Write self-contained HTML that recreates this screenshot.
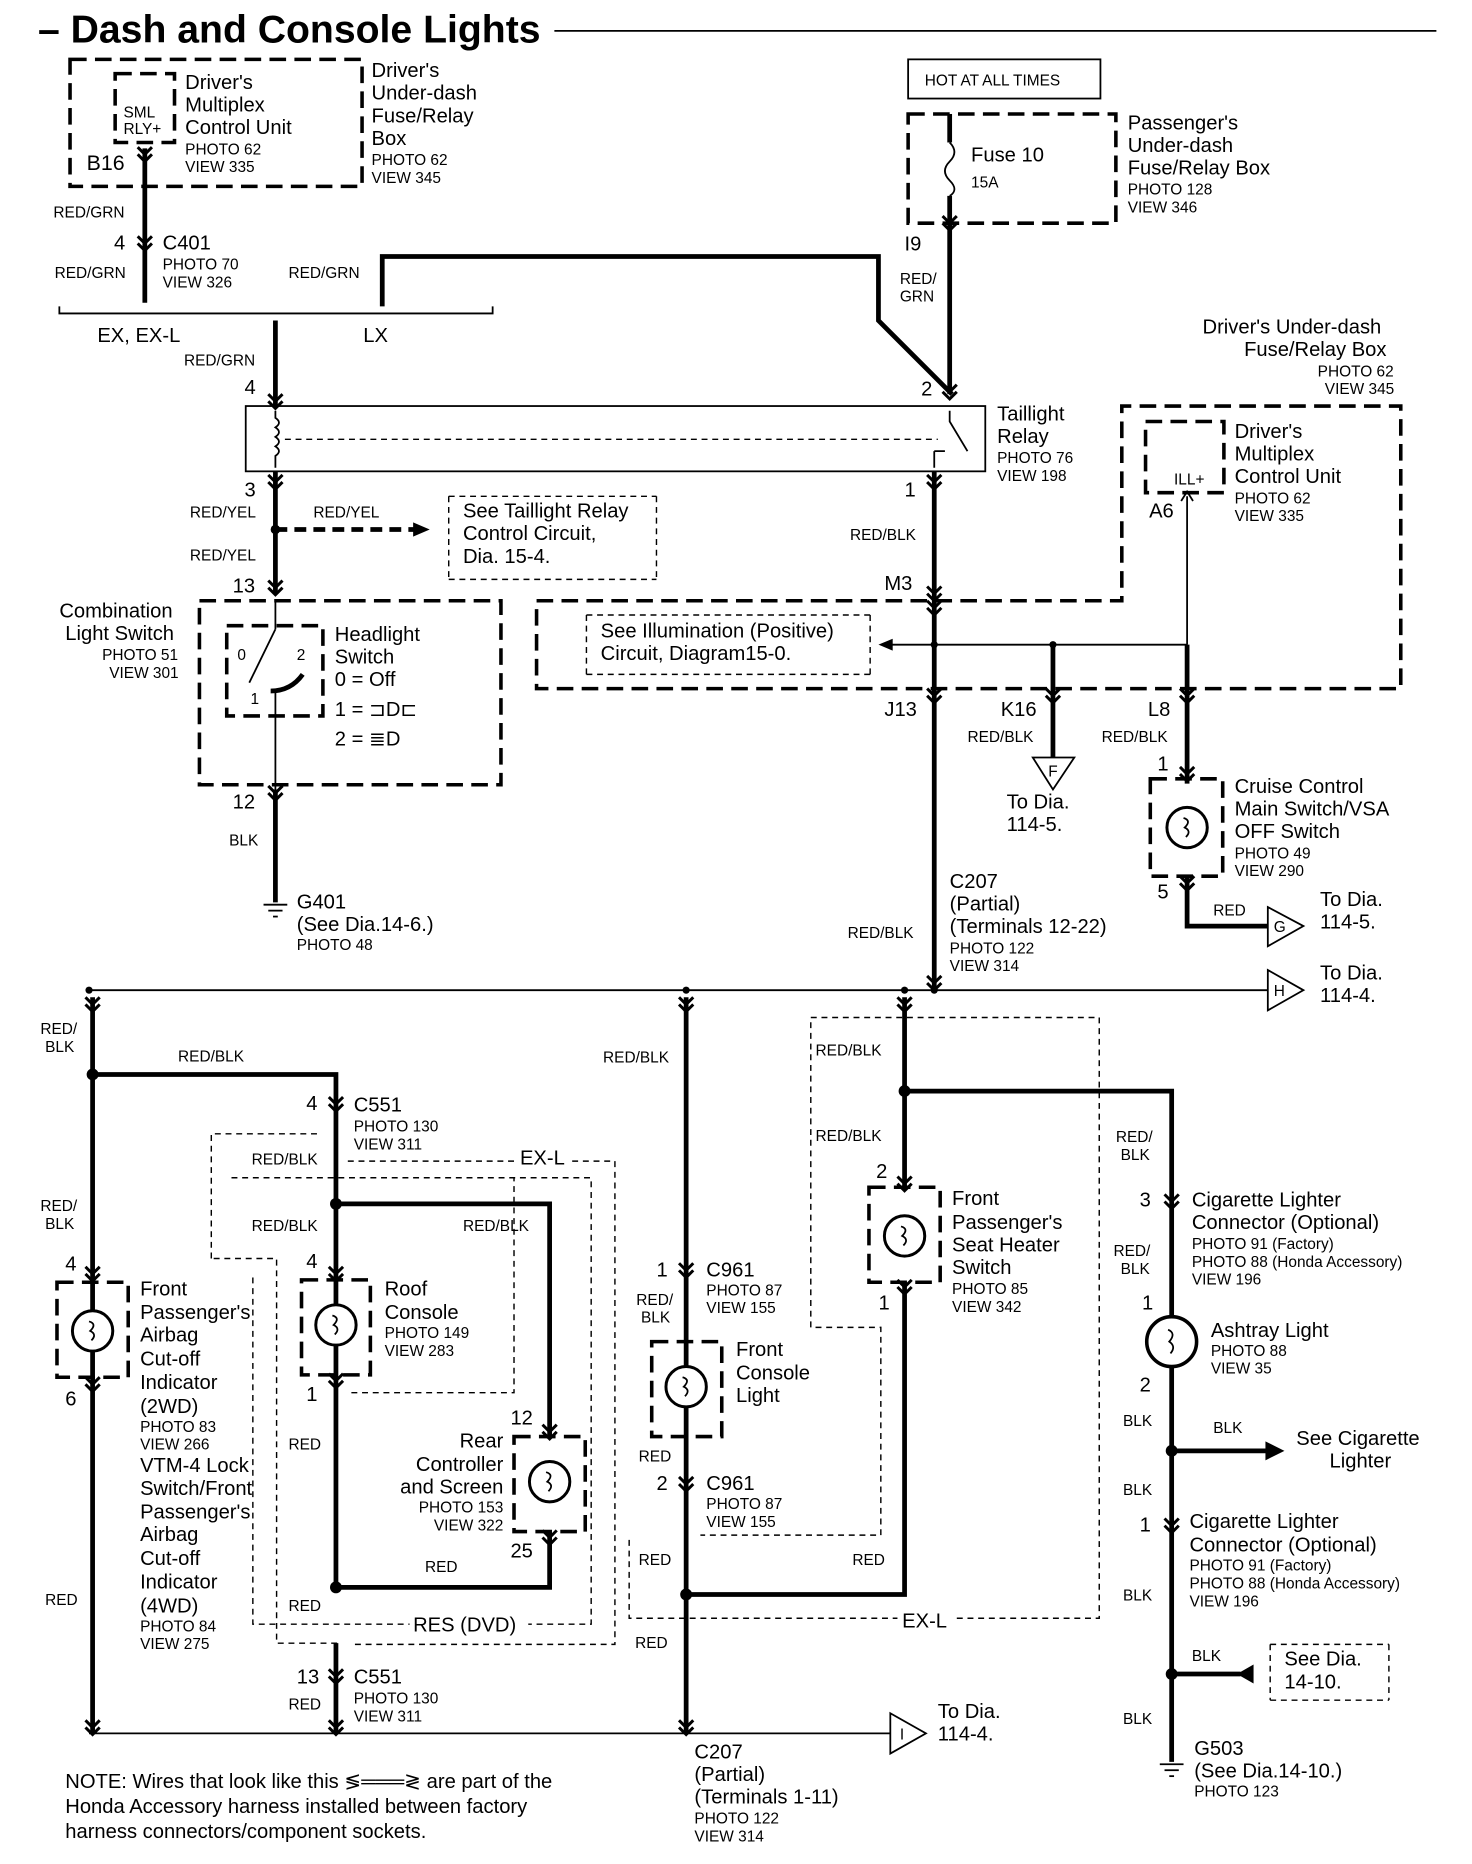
<!DOCTYPE html>
<html><head><meta charset="utf-8"><style>
html,body{margin:0;padding:0;background:#fff}
svg{display:block}
text{font-family:"Liberation Sans",sans-serif;fill:#000}
.s{font-size:13px}.m{font-size:17px}.l{font-size:18px}
.w{stroke:#000;stroke-width:4;fill:none}
.t{stroke:#000;stroke-width:1.5;fill:none}
.d{stroke:#000;stroke-width:3;fill:none;stroke-dasharray:14 7}
.dt{stroke:#000;stroke-width:1.2;fill:none;stroke-dasharray:5 4}
.c{stroke:#000;stroke-width:2.5;fill:none}
</style></head><body>
<svg width="1472" height="1864" viewBox="0 0 1240 1570" preserveAspectRatio="none" xmlns="http://www.w3.org/2000/svg">
<defs>
<g id="ch"><path d="M-6 -6 L0 0 L6 -6 M-6 0 L0 6 L6 0" class="c"/></g>
<g id="lamp"><circle r="17" fill="#fff" stroke="#000" stroke-width="2.5"/><path d="M-3 -8 Q4 -6 -2 0 Q4 3 -1 8" fill="none" stroke="#000" stroke-width="1.5"/></g>
</defs>
<text x="32" y="36" font-size="33" font-weight="bold">– Dash and Console Lights</text>
<line x1="467" y1="26" x2="1210" y2="26" class="t" stroke-width="2"/>

<!-- top left box -->
<rect x="59" y="50" width="246" height="107" class="d"/>
<rect x="97" y="62" width="50" height="58" class="d" stroke-dasharray="10 6"/>
<text x="104" y="99" class="s">SML</text><text x="104" y="113" class="s">RLY+</text>
<text x="73" y="143" class="l">B16</text>
<text x="156" y="75" class="m">Driver's</text><text x="156" y="94" class="m">Multiplex</text><text x="156" y="113" class="m">Control Unit</text>
<text x="156" y="130" class="s">PHOTO 62</text><text x="156" y="145" class="s">VIEW 335</text>
<text x="313" y="65" class="m">Driver's</text><text x="313" y="84" class="m">Under-dash</text><text x="313" y="103" class="m">Fuse/Relay</text><text x="313" y="122" class="m">Box</text>
<text x="313" y="139" class="s">PHOTO 62</text><text x="313" y="154" class="s">VIEW 345</text>
<line x1="122" y1="125" x2="122" y2="255" class="w"/>
<use href="#ch" x="122" y="130"/><use href="#ch" x="122" y="205"/>
<text x="45" y="183" class="s">RED/GRN</text>
<text x="96" y="210" class="m">4</text><text x="137" y="210" class="m">C401</text>
<text x="137" y="227" class="s">PHOTO 70</text><text x="137" y="242" class="s">VIEW 326</text>
<text x="46" y="234" class="s">RED/GRN</text><text x="243" y="234" class="s">RED/GRN</text>
<path d="M50 258 L50 264 L415 264 L415 258" class="t" stroke-width="2.5"/>
<text x="82" y="288" class="m">EX, EX-L</text><text x="306" y="288" class="m">LX</text>
<path d="M322 258 V216 H740 V270 L802 332" class="w"/>
<line x1="232" y1="270" x2="232" y2="342" class="w"/>
<use href="#ch" x="232" y="338"/>
<text x="155" y="308" class="s">RED/GRN</text><text x="206" y="332" class="m">4</text>

<!-- fuse box -->
<rect x="765" y="50" width="162" height="33" class="t"/>
<text x="779" y="72" class="s">HOT AT ALL TIMES</text>
<rect x="765" y="96" width="175" height="92" class="d"/>
<line x1="800" y1="96" x2="800" y2="120" class="w"/>
<path d="M800 120 Q808 128 800 136 Q792 144 800 152 Q808 160 800 165" class="t" stroke-width="2"/>
<line x1="800" y1="165" x2="800" y2="332" class="w"/>
<use href="#ch" x="800" y="188"/><use href="#ch" x="800" y="330"/>
<text x="818" y="136" class="m">Fuse 10</text><text x="818" y="158" class="s">15A</text>
<text x="950" y="109" class="m">Passenger's</text><text x="950" y="128" class="m">Under-dash</text><text x="950" y="147" class="m">Fuse/Relay Box</text>
<text x="950" y="164" class="s">PHOTO 128</text><text x="950" y="179" class="s">VIEW 346</text>
<text x="762" y="211" class="m">I9</text>
<text x="758" y="239" class="s">RED/</text><text x="758" y="254" class="s">GRN</text>
<text x="776" y="333" class="m">2</text>

<!-- relay -->
<rect x="207" y="342" width="623" height="55" class="t" stroke-width="2.5"/>
<path d="M232 346 V352 Q238 356 232 360 Q238 364 232 368 Q238 372 232 376 Q238 380 232 384 V394" class="t" stroke-width="2"/>
<line x1="240" y1="370" x2="790" y2="370" class="dt"/>
<path d="M800 346 V355 L815 380 M787 380 V394 M787 380 H796" class="t" stroke-width="2"/>
<text x="840" y="354" class="m">Taillight</text><text x="840" y="373" class="m">Relay</text>
<text x="840" y="390" class="s">PHOTO 76</text><text x="840" y="405" class="s">VIEW 198</text>
<text x="1013" y="281" class="m">Driver's Under-dash</text><text x="1048" y="300" class="m">Fuse/Relay Box</text>
<text x="1110" y="317" class="s">PHOTO 62</text><text x="1116" y="332" class="s">VIEW 345</text>

<line x1="232" y1="397" x2="232" y2="500" class="w"/>
<use href="#ch" x="232" y="406"/><use href="#ch" x="232" y="495"/>
<text x="206" y="418" class="m">3</text>
<text x="160" y="436" class="s">RED/YEL</text><text x="264" y="436" class="s">RED/YEL</text>
<text x="160" y="472" class="s">RED/YEL</text>
<circle cx="232" cy="446" r="4"/>
<line x1="232" y1="446" x2="350" y2="446" class="w" stroke-dasharray="10 6"/>
<path d="M348 440 L362 446 L348 452Z"/>
<path d="M378 418 V488 M553 418 V488 M378 418 H553 M378 488 H553" class="dt"/>
<text x="390" y="436" class="m">See Taillight Relay</text><text x="390" y="455" class="m">Control Circuit,</text><text x="390" y="474" class="m">Dia. 15-4.</text>
<text x="196" y="499" class="m">13</text>

<!-- combination switch -->
<rect x="168" y="506" width="254" height="155" class="d"/>
<rect x="191" y="527" width="81" height="76" class="d" stroke-dasharray="10 5"/>
<line x1="232" y1="506" x2="232" y2="530" class="t"/><line x1="232" y1="530" x2="210" y2="575" class="t" stroke-width="2"/>
<path d="M228 582 Q245 582 255 568" class="w"/>
<line x1="232" y1="582" x2="232" y2="670" class="t"/>
<text x="200" y="556" class="s">0</text><text x="250" y="556" class="s">2</text><text x="211" y="593" class="s">1</text>
<text x="282" y="540" class="m">Headlight</text><text x="282" y="559" class="m">Switch</text>
<text x="282" y="578" class="m">0 = Off</text><text x="282" y="603" class="m">1 = ⊐D⊏</text><text x="282" y="628" class="m">2 = ≣D</text>
<text x="50" y="520" class="m">Combination</text><text x="55" y="539" class="m">Light Switch</text>
<text x="86" y="556" class="s">PHOTO 51</text><text x="92" y="571" class="s">VIEW 301</text>
<text x="196" y="681" class="m">12</text>
<line x1="232" y1="665" x2="232" y2="760" class="w"/>
<use href="#ch" x="232" y="668"/>
<text x="193" y="712" class="s">BLK</text>
<line x1="222" y1="762" x2="242" y2="762" class="t" stroke-width="2"/><line x1="226" y1="767" x2="238" y2="767" class="t" stroke-width="2"/><line x1="230" y1="772" x2="234" y2="772" class="t" stroke-width="2"/>
<text x="250" y="765" class="m">G401</text><text x="250" y="784" class="m">(See Dia.14-6.)</text><text x="250" y="800" class="s">PHOTO 48</text>

<!-- right upper -->
<line x1="787" y1="397" x2="787" y2="835" class="w"/>
<use href="#ch" x="787" y="406"/><use href="#ch" x="787" y="500"/><use href="#ch" x="787" y="512"/><use href="#ch" x="787" y="586"/><use href="#ch" x="787" y="828"/>
<text x="762" y="418" class="m">1</text><text x="716" y="455" class="s">RED/BLK</text><text x="745" y="497" class="m">M3</text>
<path d="M452 506 H945 V342 H1180 V580 H452 Z" class="d"/>
<rect x="965" y="355" width="66" height="60" class="d" stroke-dasharray="10 5"/>
<text x="989" y="408" class="s">ILL+</text>
<text x="968" y="436" class="m">A6</text>
<text x="1040" y="369" class="m">Driver's</text><text x="1040" y="388" class="m">Multiplex</text><text x="1040" y="407" class="m">Control Unit</text>
<text x="1040" y="424" class="s">PHOTO 62</text><text x="1040" y="439" class="s">VIEW 335</text>
<path d="M494 518 V568 M733 518 V568 M494 518 H733 M494 568 H733" class="dt"/>
<text x="506" y="537" class="m">See Illumination (Positive)</text><text x="506" y="556" class="m">Circuit, Diagram15-0.</text>
<line x1="748" y1="543" x2="1000" y2="543" class="t"/><path d="M752 538 L740 543 L752 548Z"/>
<line x1="1000" y1="418" x2="1000" y2="543" class="t" stroke-width="2"/>
<path d="M995 422 L1000 414 L1005 422" class="t"/>
<line x1="1000" y1="543" x2="1000" y2="660" class="w"/>
<line x1="887" y1="543" x2="887" y2="638" class="w"/>
<use href="#ch" x="887" y="586"/><use href="#ch" x="1000" y="586"/><use href="#ch" x="1000" y="652"/><use href="#ch" x="1000" y="744"/>
<circle cx="787" cy="543" r="3"/><circle cx="887" cy="543" r="3"/>
<text x="745" y="603" class="m">J13</text><text x="843" y="603" class="m">K16</text><text x="967" y="603" class="m">L8</text>
<text x="815" y="625" class="s">RED/BLK</text><text x="928" y="625" class="s">RED/BLK</text>
<path d="M870 638 H905 L887 665Z" class="t"/><text x="883" y="654" class="s">F</text>
<text x="848" y="681" class="m">To Dia.</text><text x="848" y="700" class="m">114-5.</text>
<text x="975" y="649" class="m">1</text>
<rect x="969" y="656" width="61" height="82" class="d" stroke-dasharray="10 5"/>
<use href="#lamp" x="1000" y="697"/>
<text x="1040" y="668" class="m">Cruise Control</text><text x="1040" y="687" class="m">Main Switch/VSA</text><text x="1040" y="706" class="m">OFF Switch</text>
<text x="1040" y="723" class="s">PHOTO 49</text><text x="1040" y="738" class="s">VIEW 290</text>
<text x="975" y="757" class="m">5</text>
<path d="M1000 738 V780 H1068" class="w"/>
<text x="1022" y="771" class="s">RED</text>
<path d="M1068 764 L1098 780 L1068 797Z" class="t"/><text x="1073" y="785" class="s">G</text>
<text x="1112" y="763" class="m">To Dia.</text><text x="1112" y="782" class="m">114-5.</text>
<text x="800" y="748" class="m">C207</text><text x="800" y="767" class="m">(Partial)</text><text x="800" y="786" class="m">(Terminals 12-22)</text>
<text x="800" y="803" class="s">PHOTO 122</text><text x="800" y="818" class="s">VIEW 314</text>
<text x="714" y="790" class="s">RED/BLK</text>

<!-- mid bus -->
<line x1="75" y1="834" x2="1068" y2="834" class="t"/>
<path d="M1068 817 L1098 834 L1068 851Z" class="t"/><text x="1073" y="839" class="s">H</text>
<text x="1112" y="825" class="m">To Dia.</text><text x="1112" y="844" class="m">114-4.</text>
<circle cx="75" cy="834" r="3"/><circle cx="578" cy="834" r="3"/><circle cx="762" cy="834" r="3"/><circle cx="787" cy="834" r="3"/>

<!-- dashed regions -->
<path d="M178 1060 V955 H268 M180 1060 H233 V1384 H285" class="dt"/>
<path d="M293 978 H518 V1385 H296" class="dt"/>
<path d="M195 992 H498 V1368 H213 V1072" class="dt"/>
<path d="M296 1173 H433 V992" class="dt"/>
<path d="M530 1297 V1363 H926 V857 H683 V1118 H742 V1293 H590" class="dt"/>
<rect x="435" y="968" width="45" height="18" fill="#fff"/>
<rect x="345" y="1360" width="100" height="18" fill="#fff"/>
<rect x="756" y="1356" width="48" height="18" fill="#fff"/>

<!-- col 1 -->
<line x1="78" y1="840" x2="78" y2="1460" class="w"/>
<use href="#ch" x="78" y="846"/><use href="#ch" x="78" y="1073"/><use href="#ch" x="78" y="1166"/><use href="#ch" x="78" y="1455"/>
<text x="34" y="871" class="s">RED/</text><text x="38" y="886" class="s">BLK</text>
<circle cx="78" cy="905" r="5"/>
<path d="M78 905 H283 V1337 M283 1014 H463 V1210 M283 1337 H463 V1290" class="w"/>
<text x="150" y="894" class="s">RED/BLK</text>
<text x="34" y="1020" class="s">RED/</text><text x="38" y="1035" class="s">BLK</text>
<text x="55" y="1070" class="m">4</text><text x="55" y="1184" class="m">6</text>
<rect x="48" y="1080" width="60" height="80" class="d" stroke-dasharray="10 5"/>
<use href="#lamp" x="78" y="1121"/>
<text x="118" y="1091" class="m">Front</text><text x="118" y="1111" class="m">Passenger's</text><text x="118" y="1130" class="m">Airbag</text><text x="118" y="1150" class="m">Cut-off</text><text x="118" y="1170" class="m">Indicator</text><text x="118" y="1190" class="m">(2WD)</text>
<text x="118" y="1206" class="s">PHOTO 83</text><text x="118" y="1221" class="s">VIEW 266</text>
<text x="118" y="1240" class="m">VTM-4 Lock</text><text x="118" y="1259" class="m">Switch/Front</text><text x="118" y="1279" class="m">Passenger's</text><text x="118" y="1298" class="m">Airbag</text><text x="118" y="1318" class="m">Cut-off</text><text x="118" y="1338" class="m">Indicator</text><text x="118" y="1358" class="m">(4WD)</text>
<text x="118" y="1374" class="s">PHOTO 84</text><text x="118" y="1389" class="s">VIEW 275</text>
<text x="38" y="1352" class="s">RED</text>

<!-- col 2 -->
<use href="#ch" x="283" y="930"/><use href="#ch" x="283" y="1073"/><use href="#ch" x="283" y="1163"/><use href="#ch" x="463" y="1206"/><use href="#ch" x="463" y="1295"/><use href="#ch" x="283" y="1412"/><use href="#ch" x="283" y="1455"/>
<text x="258" y="935" class="m">4</text><text x="298" y="936" class="m">C551</text>
<text x="298" y="953" class="s">PHOTO 130</text><text x="298" y="968" class="s">VIEW 311</text>
<text x="212" y="981" class="s">RED/BLK</text><text x="438" y="981" class="m">EX-L</text>
<text x="212" y="1037" class="s">RED/BLK</text><text x="390" y="1037" class="s">RED/BLK</text>
<circle cx="283" cy="1014" r="5"/><circle cx="283" cy="1337" r="5"/>
<text x="258" y="1068" class="m">4</text><text x="258" y="1180" class="m">1</text>
<rect x="254" y="1078" width="58" height="80" class="d" stroke-dasharray="10 5"/>
<use href="#lamp" x="283" y="1116"/>
<text x="324" y="1091" class="m">Roof</text><text x="324" y="1111" class="m">Console</text>
<text x="324" y="1127" class="s">PHOTO 149</text><text x="324" y="1142" class="s">VIEW 283</text>
<text x="243" y="1221" class="s">RED</text><text x="243" y="1357" class="s">RED</text><text x="243" y="1440" class="s">RED</text>
<text x="430" y="1200" class="m">12</text><text x="430" y="1312" class="m">25</text>
<rect x="433" y="1210" width="60" height="80" class="d" stroke-dasharray="10 5"/>
<use href="#lamp" x="463" y="1248"/>
<text x="424" y="1219" class="m" text-anchor="end">Rear</text><text x="424" y="1239" class="m" text-anchor="end">Controller</text><text x="424" y="1258" class="m" text-anchor="end">and Screen</text>
<text x="424" y="1274" class="s" text-anchor="end">PHOTO 153</text><text x="424" y="1289" class="s" text-anchor="end">VIEW 322</text>
<text x="358" y="1324" class="s">RED</text>
<text x="348" y="1374" class="m">RES (DVD)</text>
<text x="250" y="1418" class="m">13</text><text x="298" y="1418" class="m">C551</text>
<text x="298" y="1435" class="s">PHOTO 130</text><text x="298" y="1450" class="s">VIEW 311</text>
<line x1="283" y1="1384" x2="283" y2="1460" class="w"/>

<!-- col 3 -->
<line x1="578" y1="840" x2="578" y2="1460" class="w"/>
<use href="#ch" x="578" y="846"/><use href="#ch" x="578" y="1070"/><use href="#ch" x="578" y="1250"/><use href="#ch" x="578" y="1455"/>
<text x="508" y="895" class="s">RED/BLK</text>
<text x="553" y="1075" class="m">1</text><text x="595" y="1075" class="m">C961</text>
<text x="595" y="1091" class="s">PHOTO 87</text><text x="595" y="1106" class="s">VIEW 155</text>
<text x="536" y="1099" class="s">RED/</text><text x="540" y="1114" class="s">BLK</text>
<rect x="549" y="1130" width="59" height="80" class="d" stroke-dasharray="10 5"/>
<use href="#lamp" x="578" y="1168"/>
<text x="620" y="1142" class="m">Front</text><text x="620" y="1162" class="m">Console</text><text x="620" y="1181" class="m">Light</text>
<text x="538" y="1231" class="s">RED</text>
<text x="553" y="1255" class="m">2</text><text x="595" y="1255" class="m">C961</text>
<text x="595" y="1271" class="s">PHOTO 87</text><text x="595" y="1286" class="s">VIEW 155</text>
<circle cx="578" cy="1343" r="5"/>
<path d="M578 1343 H762 V1080" class="w"/>
<text x="538" y="1318" class="s">RED</text><text x="718" y="1318" class="s">RED</text><text x="535" y="1388" class="s">RED</text>
<text x="760" y="1371" class="m">EX-L</text>

<!-- col 4 -->
<line x1="762" y1="840" x2="762" y2="1000" class="w"/>
<use href="#ch" x="762" y="846"/><use href="#ch" x="762" y="997"/><use href="#ch" x="762" y="1084"/>
<circle cx="762" cy="919" r="5"/>
<path d="M762 919 H987 V1410" class="w"/>
<text x="687" y="889" class="s">RED/BLK</text><text x="687" y="961" class="s">RED/BLK</text>
<text x="738" y="992" class="m">2</text><text x="740" y="1103" class="m">1</text>
<rect x="732" y="1000" width="60" height="80" class="d" stroke-dasharray="10 5"/>
<use href="#lamp" x="762" y="1041"/>
<text x="802" y="1015" class="m">Front</text><text x="802" y="1035" class="m">Passenger's</text><text x="802" y="1054" class="m">Seat Heater</text><text x="802" y="1073" class="m">Switch</text>
<text x="802" y="1090" class="s">PHOTO 85</text><text x="802" y="1105" class="s">VIEW 342</text>

<!-- col 5 -->
<use href="#ch" x="987" y="1012"/><use href="#ch" x="987" y="1285"/>
<text x="940" y="962" class="s">RED/</text><text x="944" y="977" class="s">BLK</text>
<text x="960" y="1016" class="m">3</text>
<text x="1004" y="1016" class="m">Cigarette Lighter</text><text x="1004" y="1035" class="m">Connector (Optional)</text>
<text x="1004" y="1052" class="s">PHOTO 91 (Factory)</text><text x="1004" y="1067" class="s">PHOTO 88 (Honda Accessory)</text><text x="1004" y="1082" class="s">VIEW 196</text>
<text x="938" y="1058" class="s">RED/</text><text x="944" y="1073" class="s">BLK</text>
<text x="962" y="1103" class="m">1</text>
<circle cx="987" cy="1130" r="21" fill="#fff" stroke="#000" stroke-width="3"/>
<path d="M984 1120 Q991 1123 985 1130 Q991 1134 986 1140" fill="none" stroke="#000" stroke-width="1.5"/>
<text x="1020" y="1126" class="m">Ashtray Light</text>
<text x="1020" y="1142" class="s">PHOTO 88</text><text x="1020" y="1157" class="s">VIEW 35</text>
<text x="960" y="1172" class="m">2</text>
<text x="946" y="1201" class="s">BLK</text><text x="1022" y="1207" class="s">BLK</text>
<circle cx="987" cy="1222" r="5"/>
<line x1="987" y1="1222" x2="1068" y2="1222" class="w"/><path d="M1066 1214 L1082 1222 L1066 1230Z"/>
<text x="1092" y="1217" class="m">See Cigarette</text><text x="1120" y="1236" class="m">Lighter</text>
<text x="946" y="1259" class="s">BLK</text>
<text x="960" y="1290" class="m">1</text>
<text x="1002" y="1287" class="m">Cigarette Lighter</text><text x="1002" y="1307" class="m">Connector (Optional)</text>
<text x="1002" y="1323" class="s">PHOTO 91 (Factory)</text><text x="1002" y="1338" class="s">PHOTO 88 (Honda Accessory)</text><text x="1002" y="1353" class="s">VIEW 196</text>
<text x="946" y="1348" class="s">BLK</text>
<text x="1004" y="1399" class="s">BLK</text>
<circle cx="987" cy="1410" r="5"/>
<path d="M987 1410 V1484" class="w"/>
<line x1="987" y1="1410" x2="1045" y2="1410" class="w"/><path d="M1056 1402 L1042 1410 L1056 1418Z"/>
<path d="M1070 1385 V1432 M1170 1385 V1432 M1070 1385 H1170 M1070 1432 H1170" class="dt"/>
<text x="1082" y="1403" class="m">See Dia.</text><text x="1082" y="1422" class="m">14-10.</text>
<text x="946" y="1452" class="s">BLK</text>
<line x1="977" y1="1486" x2="997" y2="1486" class="t" stroke-width="2"/><line x1="981" y1="1491" x2="993" y2="1491" class="t" stroke-width="2"/><line x1="985" y1="1496" x2="989" y2="1496" class="t" stroke-width="2"/>
<text x="1006" y="1478" class="m">G503</text><text x="1006" y="1497" class="m">(See Dia.14-10.)</text><text x="1006" y="1513" class="s">PHOTO 123</text>

<!-- bottom bus -->
<line x1="75" y1="1460" x2="750" y2="1460" class="t"/>
<path d="M750 1443 L780 1460 L750 1477Z" class="t"/><text x="758" y="1465" class="s">I</text>
<text x="790" y="1447" class="m">To Dia.</text><text x="790" y="1466" class="m">114-4.</text>
<text x="585" y="1481" class="m">C207</text><text x="585" y="1500" class="m">(Partial)</text><text x="585" y="1519" class="m">(Terminals 1-11)</text>
<text x="585" y="1536" class="s">PHOTO 122</text><text x="585" y="1551" class="s">VIEW 314</text>
<text x="55" y="1506" class="m">NOTE: Wires that look like this <tspan>≶═══≷</tspan> are part of the</text>
<text x="55" y="1527" class="m">Honda Accessory harness installed between factory</text>
<text x="55" y="1548" class="m">harness connectors/component sockets.</text>
</svg>
</body></html>
